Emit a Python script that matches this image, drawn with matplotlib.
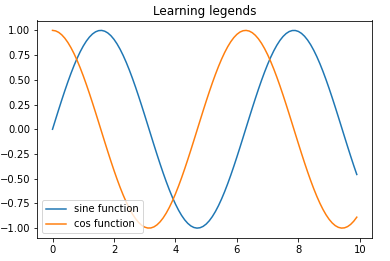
import numpy as np
import matplotlib
matplotlib.use("Agg")
import matplotlib.pyplot as plt

# sample points along x, the curves are the two named functions
x = np.arange(0, 10, 0.1)
sine_vals = np.sin(x)
cos_vals = np.cos(x)

labels = ["sine function", "cos function"]
title = "Learning legends"

fig = plt.figure(figsize=(390 / 72, 261 / 72), dpi=72)
ax = fig.add_axes([37.3 / 390, 1 - 238 / 261, (372 - 37.3) / 390, (238 - 20.5) / 261])

ax.plot(x, sine_vals, label=labels[0])
ax.plot(x, cos_vals, label=labels[1])

ax.set_title(title)
ax.legend(loc="lower left")

fig.savefig("out.png", dpi=72)
